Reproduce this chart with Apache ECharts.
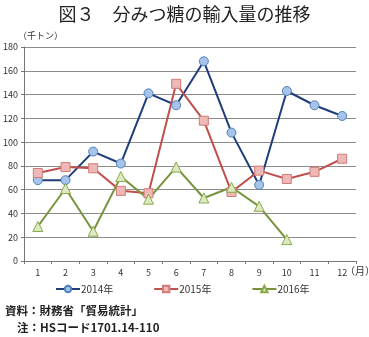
<!DOCTYPE html>
<html>
<head>
<meta charset="utf-8">
<script src="https://cdn.jsdelivr.net/npm/echarts@6/dist/echarts.min.js"></script>
<style>
  html, body { margin: 0; padding: 0; background: #fff; }
  #chart { width: 369px; height: 337px; }
</style>
</head>
<body>
<div id="chart"></div>
<script>
// Monthly imports (thousand tonnes)
const months = ['1', '2', '3', '4', '5', '6', '7', '8', '9', '10', '11', '12'];
const y2014 = [68, 68, 92, 82, 141, 131, 168, 108, 64, 143, 131, 122];
const y2015 = [74, 79, 78, 59, 57, 149, 118, 58, 76, 69, 75, 86];
const y2016 = [29, 61, 25, 71, 52, 79, 53, 62, 46, 18];
const seriesNames = ['2014年', '2015年', '2016年'];
const yTicks = { min: 0, max: 180, interval: 20 };

const font = '"Noto Sans CJK JP", "Noto Sans", sans-serif';

function makeSeries(name, data, symbol, size, lineColor, fillColor, borderColor) {
  return {
    name: name,
    type: 'line',
    data: data,
    symbol: symbol,
    symbolSize: size,
    lineStyle: { color: lineColor, width: 2 },
    itemStyle: { color: fillColor, borderColor: borderColor, borderWidth: 1 },
    emphasis: { disabled: true },
    animation: false
  };
}

const chart = echarts.init(document.getElementById('chart'));
chart.setOption({
  backgroundColor: '#fff',
  animation: false,
  title: {
    text: '図３　分みつ糖の輸入量の推移',
    left: 'center',
    top: 0,
    textStyle: { fontFamily: font, fontSize: 18, fontWeight: 'normal', color: '#222' }
  },
  grid: { left: 24, right: 13, top: 47, bottom: 76 },
  legend: {
    data: seriesNames,
    top: 279,
    left: 50,
    itemGap: 40,
    itemWidth: 24,
    itemHeight: 8,
    textStyle: { fontFamily: font, fontSize: 10, color: '#333', padding: [0, 0, 0, -4] }
  },
  xAxis: {
    type: 'category',
    data: months,
    boundaryGap: true,
    axisLine: { lineStyle: { color: '#777', width: 1 } },
    axisTick: { show: true, length: 3, lineStyle: { color: '#777' } },
    axisLabel: { fontFamily: font, fontSize: 9, color: '#333', margin: 7 }
  },
  yAxis: {
    type: 'value',
    min: yTicks.min,
    max: yTicks.max,
    interval: yTicks.interval,
    axisLine: { show: true, lineStyle: { color: '#777', width: 1 } },
    axisTick: { show: true, length: 3, inside: false, lineStyle: { color: '#777' } },
    axisLabel: { fontFamily: font, fontSize: 9, color: '#333', margin: 6 },
    splitLine: { lineStyle: { color: '#8c8c8c', width: 1 } }
  },
  graphic: [
    { type: 'text', left: 18, top: 31, style: { text: '（千トン）', font: '9px ' + font, fill: '#333' } },
    { type: 'text', left: 345, top: 266, style: { text: '（月）', font: '10px ' + font, fill: '#333' } },
    { type: 'text', left: 5, top: 305, style: { text: '資料：財務省「貿易統計」', font: 'bold 11.5px ' + font, fill: '#222' } },
    { type: 'text', left: 17, top: 322, style: { text: '注：HSコード1701.14-110', font: 'bold 11.5px ' + font, fill: '#222' } }
  ],
  series: [
    makeSeries(seriesNames[0], y2014, 'circle', 9, '#1F3D7A', '#A6C3EA', '#4F81BD'),
    makeSeries(seriesNames[1], y2015, 'rect', 9, '#C0504D', '#EDB8B6', '#D27A77'),
    makeSeries(seriesNames[2], y2016, 'triangle', 10, '#77933C', '#DDE9C3', '#8AAA48')
  ]
});
</script>
</body>
</html>
